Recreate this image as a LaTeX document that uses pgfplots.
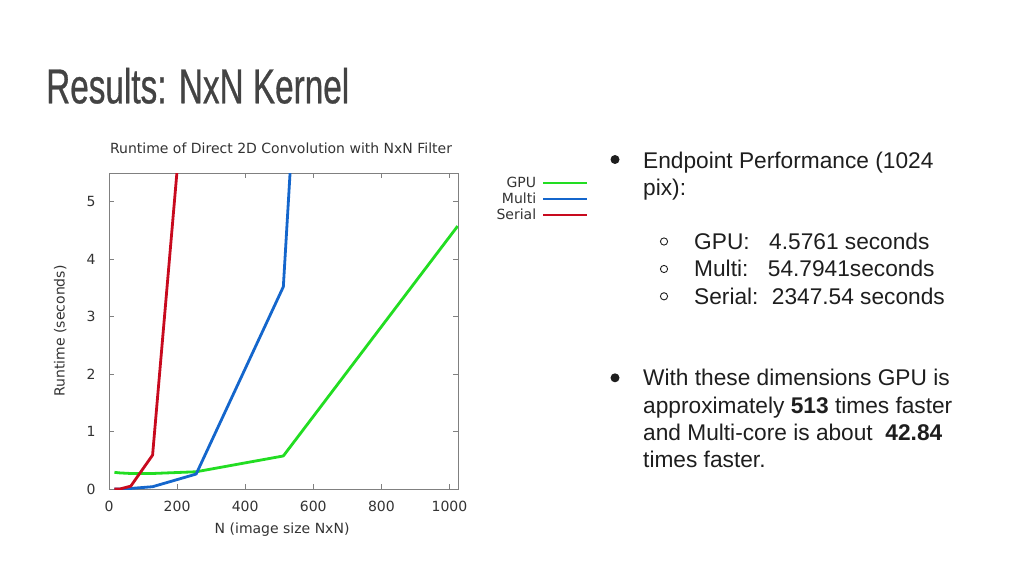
\documentclass[border=0pt]{standalone}
\usepackage{fontspec}
\setmainfont{Liberation Sans}
\newfontfamily\plotfont{DejaVu Sans}
\newfontfamily\titlefont[FakeStretch=0.68,FakeBold=0.6]{Liberation Sans}
\usepackage{pgfplots}
\pgfplotsset{compat=1.18}
\definecolor{gpucol}{RGB}{34,221,34}
\definecolor{multicol}{RGB}{20,102,204}
\definecolor{serialcol}{RGB}{200,10,30}
\definecolor{titlegray}{RGB}{67,67,67}
\definecolor{axgray}{RGB}{128,128,128}
\definecolor{labgray}{RGB}{51,51,51}
\definecolor{bodytext}{RGB}{30,30,30}

\begin{document}
\begin{tikzpicture}
  \useasboundingbox (0,0) rectangle (1024pt,576pt);
  \fill[white] (0,0) rectangle (1024pt,576pt);

  % slide title
  \node[anchor=base west, inner sep=0, text=titlegray,
        font=\titlefont\fontsize{49}{55}\selectfont] at (46pt,472.7pt) {Results: NxN Kernel};

  \begin{axis}[
      at={(109pt,87pt)}, anchor=south west,
      scale only axis, width=349pt, height=316pt,
      xmin=0, xmax=1025, ymin=0, ymax=5.5,
      xtick={0,200,...,1000}, ytick={0,1,...,5},
      tick align=inside, major tick length=5pt,
      axis line style={axgray, line width=0.8pt},
      tick style={axgray, line width=0.8pt},
      ticklabel style={font=\plotfont\fontsize{14}{16}\selectfont, text=labgray},
      xticklabel style={yshift=-9pt},
      yticklabel style={xshift=-10pt},
      /pgf/number format/assume math mode=true,
      /pgf/number format/1000 sep={},
      title={Runtime of Direct 2D Convolution with NxN Filter},
      title style={font=\plotfont\fontsize{14}{16}\selectfont, text=labgray,
                   at={(0.493,1.06)}, anchor=center},
      xlabel={N (image size NxN)},
      xlabel style={font=\plotfont\fontsize{14}{16}\selectfont, text=labgray,
                    at={(0.496,-0.13)}, anchor=center},
      ylabel={Runtime (seconds)},
      ylabel style={font=\plotfont\fontsize{14}{16}\selectfont, text=labgray,
                    at={(-0.14,0.5)}, anchor=center, rotate=0},
      legend plot pos=right,
      legend cell align=right,
      legend image code/.code={\draw[#1,line width=2.5pt] (0pt,0pt) -- (44pt,0pt);},
      legend style={at={(1.375,0.99)}, anchor=north east, draw=none, fill=none,
                    font=\plotfont\fontsize{14}{16}\selectfont, text=labgray,
                    row sep=3pt, inner sep=0pt,
                    nodes={inner xsep=6pt, inner ysep=0.5pt}},
    ]
    \addplot[gpucol, line width=2.8pt, line join=round] coordinates {
      (16,0.29) (32,0.28) (64,0.27) (128,0.27) (256,0.30) (512,0.575) (1024,4.5761)};
    \addlegendentry{GPU}
    \addplot[multicol, line width=2.8pt, line join=round] coordinates {
      (16,0.0) (32,0.0) (64,0.01) (128,0.04) (256,0.26) (512,3.52) (1024,54.7941)};
    \addlegendentry{Multi}
    \addplot[serialcol, line width=2.8pt, line join=round] coordinates {
      (16,0.0) (32,0.0) (64,0.05) (128,0.59) (256,9.4) (512,150)};
    \addlegendentry{Serial}
  \end{axis}

  % right-hand bullet text
  \begin{scope}[every node/.style={anchor=base west, inner sep=0, text=bodytext,
                                   font=\fontsize{22.7}{27}\selectfont}]
    \fill[bodytext] (615pt,416.5pt) circle (4.5pt);
    \node at (643pt,407pt) {Endpoint Performance (1024};
    \node at (643pt,380pt) {pix):};

    \draw[bodytext, line width=0.9pt] (664pt,334.5pt) circle (3.6pt);
    \draw[bodytext, line width=0.9pt] (664pt,307pt) circle (3.6pt);
    \draw[bodytext, line width=0.9pt] (664pt,279.7pt) circle (3.6pt);
    \node at (694pt,326.7pt) {GPU:};
    \node at (769pt,326.7pt) {4.5761 seconds};
    \node at (694pt,299.3pt) {Multi:};
    \node at (767.7pt,299.3pt) {54.7941seconds};
    \node at (694pt,272pt) {Serial:};
    \node at (771.7pt,272pt) {2347.54 seconds};

    \fill[bodytext] (615pt,198.2pt) circle (4.5pt);
    \node at (643pt,190.2pt) {With these dimensions GPU is};
    \node at (643pt,162.8pt) {approximately \textbf{513} times faster};
    \node at (643pt,135.5pt) {and Multi-core is about \ \textbf{42.84}};
    \node at (643pt,108.5pt) {times faster.};
  \end{scope}
\end{tikzpicture}
\end{document}
